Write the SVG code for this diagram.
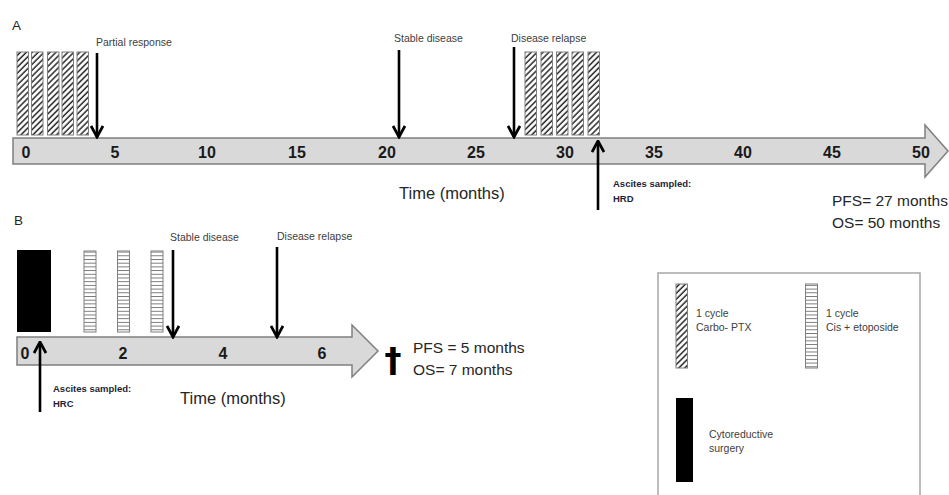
<svg xmlns="http://www.w3.org/2000/svg" width="949" height="495" viewBox="0 0 949 495">
<style>
.bar{fill:#d9d9d9;stroke:#7f7f7f;stroke-width:1.5}
.tick{font-family:"Liberation Sans",Arial,sans-serif;font-weight:bold;font-size:16px;fill:#1a1a1a;text-anchor:middle}
.lbl{font-family:"Liberation Sans",Arial,sans-serif;font-size:10.5px;fill:#404040}
.samp{font-family:"Liberation Sans",Arial,sans-serif;font-weight:bold;font-size:9.5px;fill:#1f1f33}
.big{font-family:"Liberation Sans",Arial,sans-serif;font-size:15.5px;fill:#262626}
.panel{font-family:"Liberation Sans",Arial,sans-serif;font-size:13.5px;fill:#262626}
.arr{stroke:#000;stroke-width:2.6;fill:none;marker-end:url(#chev)}
.hat{fill:url(#hatch);stroke:#7f7f7f;stroke-width:1}
.hor{fill:url(#hstripe);stroke:#7f7f7f;stroke-width:1}
</style>
<defs>
<marker id="chev" viewBox="0 0 14 14" refX="12.5" refY="7" markerWidth="14" markerHeight="14" orient="auto" markerUnits="userSpaceOnUse">
<path d="M1.5,1 L12.5,7 L1.5,13" fill="none" stroke="#000" stroke-width="2.8"/>
</marker>
<pattern id="hatch" patternUnits="userSpaceOnUse" width="4.2" height="4.2" patternTransform="rotate(45)">
<rect width="4.2" height="4.2" fill="#fff"/>
<line x1="1" y1="0" x2="1" y2="4.2" stroke="#262626" stroke-width="1.5"/>
</pattern>
<pattern id="hstripe" patternUnits="userSpaceOnUse" width="12" height="3.7">
<rect width="12" height="3.7" fill="#fff"/>
<line x1="0" y1="0.5" x2="12" y2="0.5" stroke="#555" stroke-width="0.8"/>
</pattern>
</defs>
<rect width="949" height="495" fill="#fff"/>

<g id="panelA">
<text class="panel" x="12" y="30">A</text>
<g id="timelineA">
<path class="bar" d="M13,138 H925 V125 L948,151 L925,177 V164 H13 Z"/>
<text class="tick" x="26" y="158">0</text>
<text class="tick" x="115" y="158">5</text>
<text class="tick" x="207" y="158">10</text>
<text class="tick" x="297" y="158">15</text>
<text class="tick" x="387" y="158">20</text>
<text class="tick" x="476" y="158">25</text>
<text class="tick" x="565" y="158">30</text>
<text class="tick" x="654" y="158">35</text>
<text class="tick" x="743" y="158">40</text>
<text class="tick" x="832" y="158">45</text>
<text class="tick" x="921" y="158">50</text>
</g>
<g id="cyclesA1">
<rect class="hat" x="17" y="52" width="11.5" height="83"/>
<rect class="hat" x="31.5" y="52" width="11.5" height="83"/>
<rect class="hat" x="47.5" y="52" width="11.5" height="83"/>
<rect class="hat" x="62" y="52" width="11.5" height="83"/>
<rect class="hat" x="77" y="52" width="11.5" height="83"/>
</g>
<g id="cyclesA2">
<rect class="hat" x="525" y="52" width="11.5" height="83"/>
<rect class="hat" x="541" y="52" width="11.5" height="83"/>
<rect class="hat" x="556.5" y="52" width="11.5" height="83"/>
<rect class="hat" x="572" y="52" width="11.5" height="83"/>
<rect class="hat" x="588" y="52" width="11.5" height="83"/>
</g>
<g id="partialResponse"><text class="lbl" x="96" y="46">Partial response</text></g>
<g id="stableA"><text class="lbl" x="394" y="42">Stable disease</text></g>
<g id="relapseA"><text class="lbl" x="511" y="42">Disease relapse</text></g>
<g id="ascitesA">
<text class="samp" x="613" y="187">Ascites sampled:</text>
<text class="samp" x="613" y="202">HRD</text>
</g>
<text class="big" x="399" y="199" style="font-size:16.5px">Time (months)</text>
<g id="survivalA">
<text class="big" x="832" y="206">PFS= 27 months</text>
<text class="big" x="832" y="228">OS= 50 months</text>
</g>
</g>

<g id="panelB">
<text class="panel" x="14" y="225">B</text>
<g id="timelineB">
<path class="bar" d="M17,337 H352 V325 L378,351 L352,377 V365 H17 Z"/>
<text class="tick" x="25" y="359">0</text>
<text class="tick" x="123" y="359">2</text>
<text class="tick" x="223" y="359">4</text>
<text class="tick" x="322" y="359">6</text>
</g>
<g id="surgeryB"><rect x="17" y="250" width="34" height="82" fill="#000"/></g>
<g id="cyclesB">
<rect class="hor" x="84" y="251" width="12" height="81"/>
<rect class="hor" x="117.5" y="251" width="12" height="81"/>
<rect class="hor" x="151" y="251" width="12" height="81"/>
</g>
<g id="stableB"><text class="lbl" x="170" y="241">Stable disease</text></g>
<g id="relapseB"><text class="lbl" x="277" y="240">Disease relapse</text></g>
<g id="ascitesB">
<text class="samp" x="53" y="392">Ascites sampled:</text>
<text class="samp" x="53" y="407">HRC</text>
</g>
<text class="big" x="180" y="404" style="font-size:16.5px">Time (months)</text>
<g id="death"><text x="393" y="372" style="font-family:'DejaVu Sans',sans-serif;font-weight:bold;font-size:34px;fill:#000;text-anchor:middle">†</text></g>
<g id="survivalB">
<text class="big" x="413" y="353">PFS = 5 months</text>
<text class="big" x="413" y="375">OS= 7 months</text>
</g>
</g>

<g id="connectors">
<line class="arr" x1="97" y1="53" x2="97" y2="137"/>
<line class="arr" x1="399" y1="50" x2="399" y2="137"/>
<line class="arr" x1="514" y1="47" x2="514" y2="137"/>
<line class="arr" x1="598" y1="210" x2="598" y2="141"/>
<line class="arr" x1="173" y1="250" x2="173" y2="337"/>
<line class="arr" x1="277" y1="247" x2="277" y2="337"/>
<line class="arr" x1="40" y1="412" x2="40" y2="342"/>
</g>

<g id="legend">
<rect x="658" y="273" width="262" height="240" fill="#fff" stroke="#a6a6a6" stroke-width="1.5"/>
<rect class="hat" x="676" y="284" width="11.5" height="84"/>
<text class="lbl" x="696" y="317">1 cycle</text>
<text class="lbl" x="696" y="331">Carbo- PTX</text>
<rect class="hor" x="805.5" y="284" width="12" height="84"/>
<text class="lbl" x="826" y="317">1 cycle</text>
<text class="lbl" x="826" y="331">Cis + etoposide</text>
<rect x="676" y="398" width="17" height="84" fill="#000"/>
<text class="lbl" x="709" y="438">Cytoreductive</text>
<text class="lbl" x="709" y="452">surgery</text>
</g>
</svg>
